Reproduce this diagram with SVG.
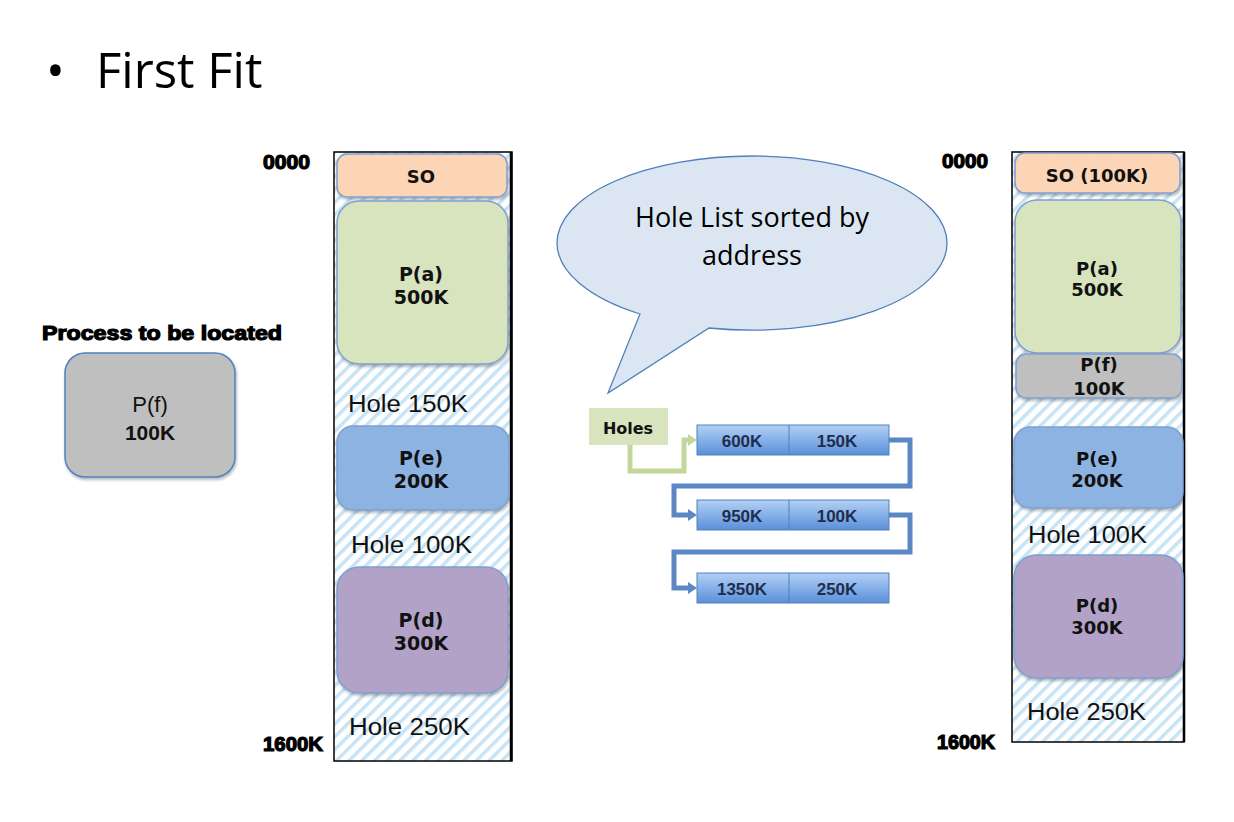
<svg xmlns="http://www.w3.org/2000/svg" width="1234" height="822" viewBox="0 0 1234 822">
<defs>
<style>
.col{fill:url(#hatch);stroke:#000;stroke-width:1.5}
.box{stroke:#7f9fcf;stroke-width:1.5;filter:url(#sh)}
.bt{font-family:"DejaVu Sans",sans-serif;font-weight:bold;fill:#111;text-anchor:middle}
.hole{font-family:"Liberation Sans",Arial,sans-serif;font-size:23px;fill:#111}
.addr{font-family:"Liberation Sans",Arial,sans-serif;font-weight:bold;font-size:20px;fill:#000;stroke:#000;stroke-width:1.2}
.ln{font-family:"Liberation Sans",Arial,sans-serif;font-weight:bold;font-size:17px;fill:#1f2d4d;text-anchor:middle}
.node{fill:url(#blue);stroke:#4f81bd;stroke-width:1}
.conB{fill:none;stroke:#5b87c5;stroke-width:5;marker-end:url(#arB)}
.conG{fill:none;stroke:#c3d69b;stroke-width:5;marker-end:url(#arG)}
</style>
<pattern id="hatch" width="9" height="9" patternUnits="userSpaceOnUse" patternTransform="rotate(45)">
<rect width="9" height="9" fill="#fff"/><rect width="3.5" height="9" fill="#c7e4f7"/>
</pattern>
<linearGradient id="blue" x1="0" y1="0" x2="0" y2="1">
<stop offset="0" stop-color="#b3d0f4"/><stop offset="0.5" stop-color="#86b0e8"/><stop offset="1" stop-color="#5a8fd8"/>
</linearGradient>
<filter id="sh" x="-10%" y="-10%" width="120%" height="130%">
<feDropShadow dx="1" dy="2" stdDeviation="1.5" flood-color="#000" flood-opacity="0.3"/>
</filter>
<marker id="arB" markerUnits="userSpaceOnUse" markerWidth="9" markerHeight="12" viewBox="0 0 9 12" refX="0" refY="6" orient="auto">
<path d="M0,0 L9,6 L0,12 z" fill="#5b87c5"/>
</marker>
<marker id="arG" markerUnits="userSpaceOnUse" markerWidth="9" markerHeight="12" viewBox="0 0 9 12" refX="0" refY="6" orient="auto">
<path d="M0,0 L9,6 L0,12 z" fill="#c3d69b"/>
</marker>
</defs>
<rect width="1234" height="822" fill="#fff"/>

<g id="title">
<text x="46" y="88" font-family="Open Sans, sans-serif" font-size="50" fill="#000">•</text>
<text x="96" y="88" font-family="Open Sans, sans-serif" font-size="49" fill="#000">First Fit</text>
</g>

<g id="process">
<text x="42" y="340" class="addr" font-size="20" textLength="240" lengthAdjust="spacingAndGlyphs">Process to be located</text>
<rect x="65" y="353" width="170" height="124" rx="20" fill="#bfbfbf" stroke="#4f81bd" stroke-width="1.5" filter="url(#sh)"/>
<text x="150" y="412" font-family="Liberation Sans, Arial, sans-serif" font-size="22" text-anchor="middle" fill="#111">P(f)</text>
<text x="150" y="440" font-family="Liberation Sans, Arial, sans-serif" font-size="21" font-weight="bold" text-anchor="middle" fill="#111">100K</text>
</g>

<g id="memory-before">
<rect class="col" x="334" y="152" width="178" height="609"/>
<line x1="511" y1="152" x2="511" y2="761" stroke="#000" stroke-width="2.5"/>
<text class="addr" x="263" y="169" textLength="47" lengthAdjust="spacingAndGlyphs">0000</text>
<text class="addr" x="263" y="751" textLength="60" lengthAdjust="spacingAndGlyphs">1600K</text>
<g id="so-left">
<rect class="box" x="337" y="154" width="170" height="43" rx="10" fill="#fbd5b5"/>
<text class="bt" x="421" y="183" font-size="18">SO</text>
</g>
<g id="pa-left">
<rect class="box" x="337" y="201" width="171" height="163" rx="22" fill="#d7e4bd"/>
<text class="bt" x="421" y="281" font-size="19">P(a)</text>
<text class="bt" x="421" y="304" font-size="19">500K</text>
</g>
<text class="hole" x="348" y="412" textLength="120" lengthAdjust="spacingAndGlyphs">Hole 150K</text>
<g id="pe-left">
<rect class="box" x="337" y="426" width="172" height="84" rx="16" fill="#8db3e2"/>
<text class="bt" x="421" y="465" font-size="19">P(e)</text>
<text class="bt" x="421" y="488" font-size="19">200K</text>
</g>
<text class="hole" x="351" y="553" textLength="121" lengthAdjust="spacingAndGlyphs">Hole 100K</text>
<g id="pd-left">
<rect class="box" x="337" y="567" width="171" height="126" rx="22" fill="#b3a2c7"/>
<text class="bt" x="421" y="627" font-size="19">P(d)</text>
<text class="bt" x="421" y="650" font-size="19">300K</text>
</g>
<text class="hole" x="349" y="735" textLength="121" lengthAdjust="spacingAndGlyphs">Hole 250K</text>
</g>

<g id="callout">
<path d="M640,314 A195,87 0 0 1 557,243 A195,87 0 0 1 752,156 A195,87 0 0 1 947,243 A195,87 0 0 1 709,328 L608,393 Z" fill="#dce6f2" stroke="#4f81bd" stroke-width="1.3"/>
<text x="752" y="227" font-family="Open Sans, sans-serif" font-size="27" text-anchor="middle" fill="#000">Hole List sorted by</text>
<text x="752" y="265" font-family="Open Sans, sans-serif" font-size="27" text-anchor="middle" fill="#000">address</text>
</g>

<g id="connectors">
<path class="conG" d="M630,445 V471 H684 V440 H688"/>
<path class="conB" d="M889,440 H910 V486 H674 V515 H688"/>
<path class="conB" d="M889,515 H910 V552 H674 V588 H688"/>
</g>

<g id="holes-head">
<rect x="589" y="408" width="79" height="37" fill="#d7e4bd"/>
<text x="628" y="434" font-family="DejaVu Sans, sans-serif" font-weight="bold" font-size="16" text-anchor="middle" fill="#111">Holes</text>
</g>
<g id="hole1">
<rect class="node" x="697" y="425" width="192" height="30"/>
<line x1="789" y1="425" x2="789" y2="455" stroke="#4f81bd" stroke-width="1"/>
<text class="ln" x="742" y="447">600K</text>
<text class="ln" x="837" y="447">150K</text>
</g>
<g id="hole2">
<rect class="node" x="697" y="500" width="192" height="30"/>
<line x1="789" y1="500" x2="789" y2="530" stroke="#4f81bd" stroke-width="1"/>
<text class="ln" x="742" y="522">950K</text>
<text class="ln" x="837" y="522">100K</text>
</g>
<g id="hole3">
<rect class="node" x="697" y="573" width="192" height="30"/>
<line x1="789" y1="573" x2="789" y2="603" stroke="#4f81bd" stroke-width="1"/>
<text class="ln" x="742" y="595">1350K</text>
<text class="ln" x="837" y="595">250K</text>
</g>

<g id="memory-after">
<rect class="col" x="1012" y="152" width="172" height="590"/>
<line x1="1184" y1="152" x2="1184" y2="742" stroke="#000" stroke-width="2.5"/>
<text class="addr" x="942" y="168" textLength="46" lengthAdjust="spacingAndGlyphs">0000</text>
<text class="addr" x="937" y="749" textLength="58" lengthAdjust="spacingAndGlyphs">1600K</text>
<g id="so-right">
<rect class="box" x="1015" y="153" width="165" height="40" rx="10" fill="#fbd5b5"/>
<text class="bt" x="1097" y="182" font-size="18">SO (100K)</text>
</g>
<g id="pa-right">
<rect class="box" x="1015" y="200" width="166" height="153" rx="22" fill="#d7e4bd"/>
<text class="bt" x="1097" y="275" font-size="18">P(a)</text>
<text class="bt" x="1097" y="296" font-size="18">500K</text>
</g>
<g id="pf-right">
<rect class="box" x="1016" y="354" width="166" height="44" rx="10" fill="#bfbfbf"/>
<text class="bt" x="1099" y="371" font-size="18">P(f)</text>
<text class="bt" x="1099" y="395" font-size="18">100K</text>
</g>
<g id="pe-right">
<rect class="box" x="1014" y="427" width="169" height="81" rx="16" fill="#8db3e2"/>
<text class="bt" x="1097" y="465" font-size="18">P(e)</text>
<text class="bt" x="1097" y="487" font-size="18">200K</text>
</g>
<text class="hole" x="1028" y="543" textLength="119" lengthAdjust="spacingAndGlyphs">Hole 100K</text>
<g id="pd-right">
<rect class="box" x="1014" y="555" width="169" height="123" rx="22" fill="#b3a2c7"/>
<text class="bt" x="1097" y="612" font-size="18">P(d)</text>
<text class="bt" x="1097" y="634" font-size="18">300K</text>
</g>
<text class="hole" x="1027" y="720" textLength="119" lengthAdjust="spacingAndGlyphs">Hole 250K</text>
</g>
</svg>
